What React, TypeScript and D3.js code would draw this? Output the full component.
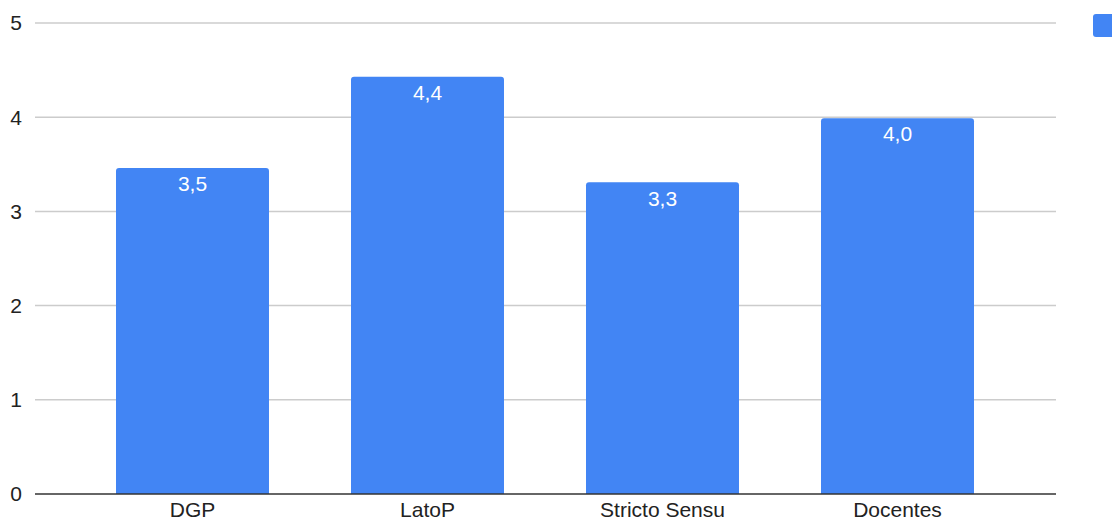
import React from "react";
import * as d3 from "d3";

const categories = ["DGP", "LatoP", "Stricto Sensu", "Docentes"];
const values = [3.46, 4.43, 3.31, 3.99];
const yTicks = [0, 1, 2, 3, 4, 5];

const W = 1112;
const H = 521;
const FONT = "'Liberation Sans', Arial, sans-serif";
const BLUE = "#4285F4";

export default function App() {
  const x = d3.scaleBand<string>().domain(categories).range([75, 1015]).paddingInner(0.349).paddingOuter(0.1745);
  const y = d3.scaleLinear().domain([0, 5]).range([494, 23]);
  const fmt = (v: number) => d3.format(".1f")(v).replace(".", ",");
  const gridX0 = 35;
  const gridX1 = 1056;

  const barPath = (x0: number, y0: number, w: number, h: number, r: number) => {
    const p = d3.path();
    p.moveTo(x0, y0 + h);
    p.lineTo(x0, y0 + r);
    p.quadraticCurveTo(x0, y0, x0 + r, y0);
    p.lineTo(x0 + w - r, y0);
    p.quadraticCurveTo(x0 + w, y0, x0 + w, y0 + r);
    p.lineTo(x0 + w, y0 + h);
    p.closePath();
    return p.toString();
  };

  return (
    <svg
      width={W}
      height={H}
      style={{ position: "fixed", left: 0, top: 0, background: "#fff" }}
      fontFamily={FONT}
    >
      {yTicks.map((t) => (
        <g key={t}>
          {t > 0 && (
            <line x1={gridX0} x2={gridX1} y1={y(t)} y2={y(t)} stroke="#cccccc" strokeWidth={1.5} />
          )}
          <text x={16} y={y(t)} dy="0.35em" textAnchor="middle" fontSize={21} fill="#222">
            {t}
          </text>
        </g>
      ))}
      {categories.map((c, i) => {
        const bx = x(c)!;
        const bw = x.bandwidth();
        const top = y(values[i]);
        return (
          <g key={c}>
            <path d={barPath(bx, top, bw, y(0) - top, 3)} fill={BLUE} />
            <text x={bx + bw / 2} y={top + 16} dy="0.35em" textAnchor="middle" fontSize={21} fill="#fff">
              {fmt(values[i])}
            </text>
            <text x={bx + bw / 2} y={517} textAnchor="middle" fontSize={21} fill="#222">
              {c}
            </text>
          </g>
        );
      })}
      <line x1={gridX0} x2={gridX1} y1={y(0)} y2={y(0)} stroke="#333" strokeWidth={1.5} />
      <rect x={1093} y={14} width={30} height={23} rx={3} fill={BLUE} />
    </svg>
  );
}
